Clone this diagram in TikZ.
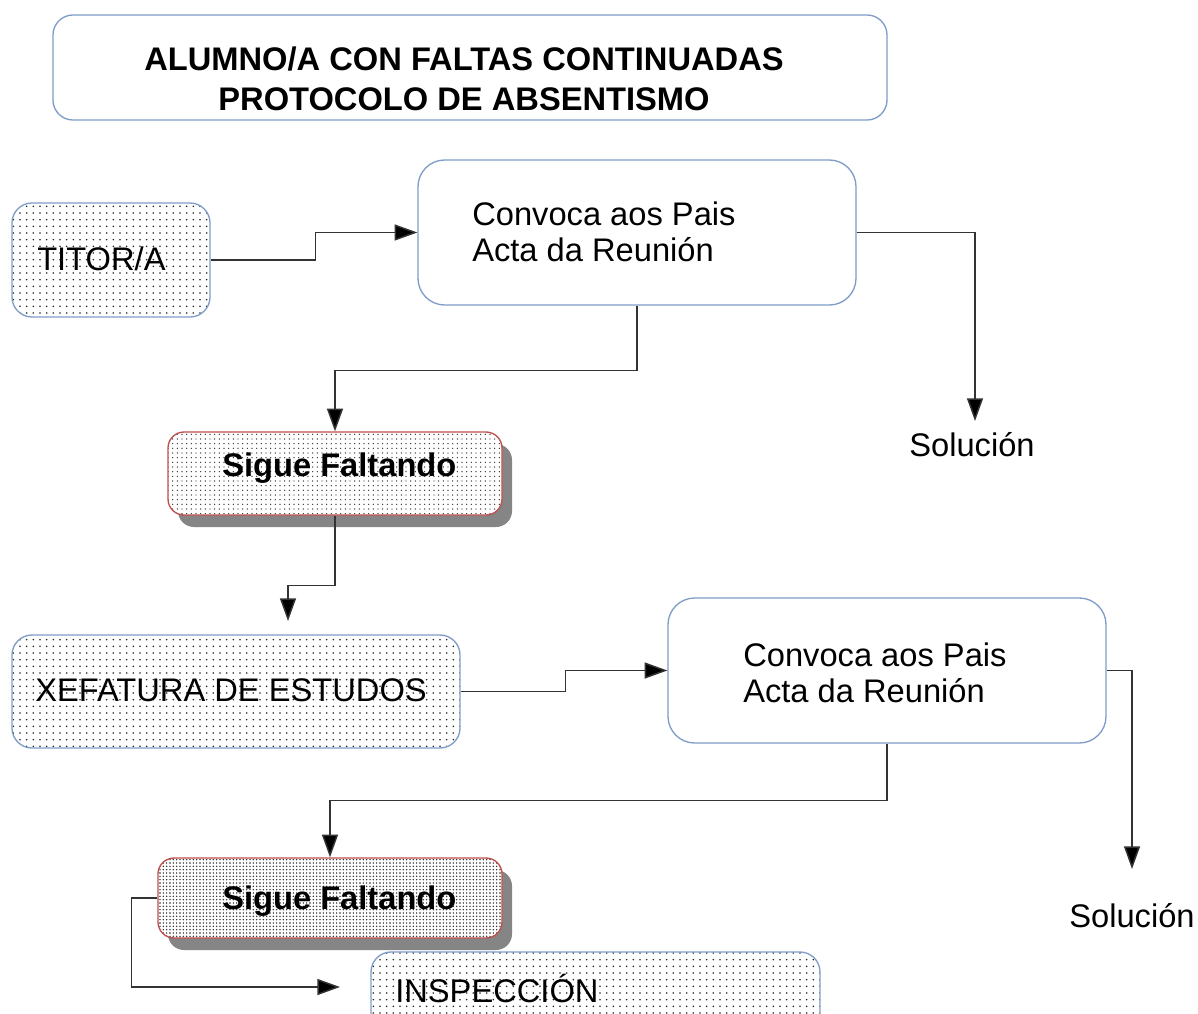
\documentclass[tikz,border=0pt]{standalone}
\usepackage{fontspec}
\setmainfont{Liberation Sans}
\usetikzlibrary{patterns.meta,shadows,arrows.meta}
\definecolor{bblue}{HTML}{7F9DC8}
\definecolor{bred}{HTML}{C0504D}
\definecolor{lgray}{HTML}{333333}
\begin{document}
\begin{tikzpicture}[x=0.75pt,y=-0.75pt,
  txt/.style={font=\fontsize{24.5}{27}\selectfont, inner sep=0pt},
  btxt/.style={font=\fontsize{24.5}{30}\selectfont\bfseries, inner sep=0pt},
  box/.style={draw=bblue, line width=1pt, rounded corners=15pt},
  whitebox/.style={box, fill=white},
  dotbox/.style={box, preaction={fill=white}, pattern={Dots[distance=5pt,radius=0.65pt]}, pattern color=black!85},
  sigbox/.style={draw=bred, line width=1pt, rounded corners=12pt,
     drop shadow={shadow xshift=7.5pt, shadow yshift=-9pt, fill=black!48, opacity=1},
     preaction={fill=white}},
  arr/.style={draw=lgray, line width=1.1pt, -{Triangle[length=17pt,width=12pt,fill=black]}}
]
\clip (0,0) rectangle (1198,1013);
\fill[white] (0,0) rectangle (1198,1013);

% title
\node[whitebox, minimum width=625.5pt, minimum height=78.75pt] (title) at (470,67.5) {};
\node[btxt, align=center] (titletext) at (464,78.5) {ALUMNO/A CON FALTAS CONTINUADAS\\PROTOCOLO DE ABSENTISMO};

% TITOR/A
\node[dotbox, minimum width=148.5pt, minimum height=85.5pt] (titor) at (111,260) {};
\node[txt, anchor=base west] (titortext) at (37,270) {TITOR/A};

% Convoca 1
\node[whitebox, rounded corners=20pt, minimum width=328.5pt, minimum height=108.75pt] (conv1) at (637,232.5) {};
\node[txt, align=left, anchor=west] (conv1text) at (472,232) {Convoca aos Pais\\Acta da Reunión};

% Solucion 1
\node[txt, anchor=base] (sol1) at (972,456) {Solución};
\coordinate (s1) at (975,421);

% Sigue Faltando 1
\node[sigbox, pattern={Dots[distance=3.5pt,radius=0.55pt]}, pattern color=black!80, minimum width=250.5pt, minimum height=62.25pt] (sig1) at (335,473.5) {};
\node[btxt, anchor=base west] (sig1text) at (222,476) {Sigue Faltando};

% XEFATURA
\node[dotbox, minimum width=336pt, minimum height=84.75pt] (xef) at (236,691.5) {};
\node[txt, anchor=base west] (xeftext) at (35,701) {XEFATURA DE ESTUDOS};
\coordinate (x1) at (288,621);

% Convoca 2
\node[whitebox, rounded corners=20pt, minimum width=328.5pt, minimum height=108.75pt] (conv2) at (887,670.5) {};
\node[txt, align=left, anchor=west] (conv2text) at (743,673) {Convoca aos Pais\\Acta da Reunión};

% Solucion 2
\node[txt, anchor=base] (sol2) at (1132,927) {Solución};
\coordinate (s2) at (1132,869);

% Sigue Faltando 2
\node[sigbox, pattern={Dots[distance=2.5pt,radius=0.6pt]}, pattern color=black!85, minimum width=258pt, minimum height=60pt] (sig2) at (330,898) {};
\node[btxt, anchor=base west] (sig2text) at (222,909) {Sigue Faltando};

% INSPECCION
\node[dotbox, minimum width=336.75pt, minimum height=66pt] (insp) at (595.5,996) {};
\node[txt, anchor=base west] (insptext) at (395,1002) {INSPECCIÓN};
\coordinate (i1) at (340,987);

% connectors
\draw[arr] (titor.east) -- ++(105,0) |- (conv1.west);
\draw[arr] (conv1.east) -| (s1);
\draw[arr] (conv1.south) -- ++(0,65) -| (sig1.north);
\draw[arr] (sig1.south) -- ++(0,70) -| (x1);
\draw[arr] (xef.east) -- ++(105,0) |- (conv2.west);
\draw[arr] (conv2.east) -| (s2);
\draw[arr] (conv2.south) -- ++(0,57) -| (sig2.north);
\draw[arr] (sig2.west) -- ++(-26,0) |- (i1);
\end{tikzpicture}
\end{document}
